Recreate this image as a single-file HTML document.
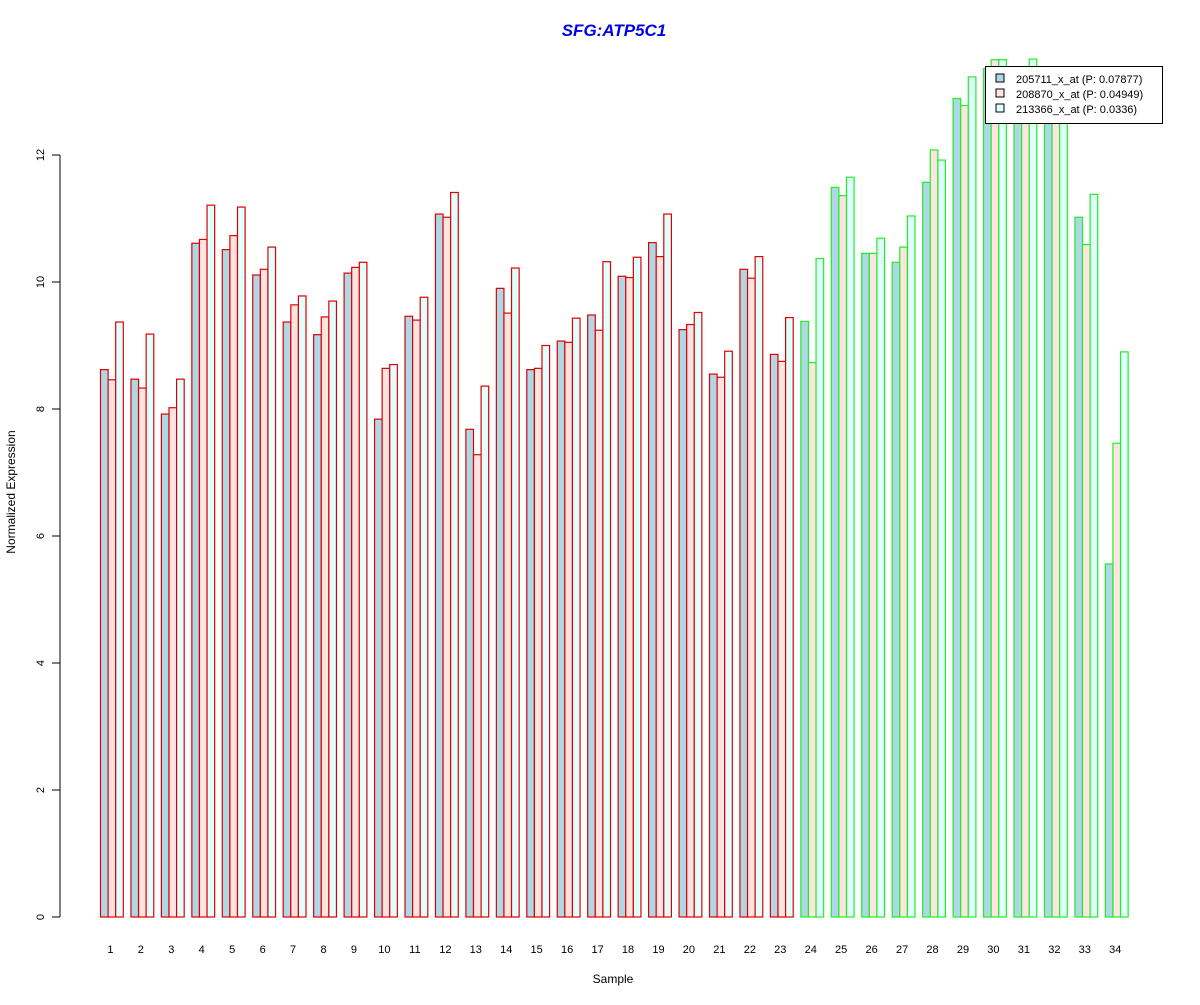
<!DOCTYPE html>
<html><head><meta charset="utf-8"><style>
body{margin:0;background:#fff;}
svg text{font-family:"Liberation Sans",Arial,sans-serif;}
</style></head><body>
<svg id="chart" width="1200" height="1000" xmlns="http://www.w3.org/2000/svg">
<text x="614" y="36" text-anchor="middle" font-size="17" font-weight="bold" font-style="italic" fill="#0000ee">SFG:ATP5C1</text>
<text transform="translate(15,492) rotate(-90)" text-anchor="middle" font-size="12">Normalized Expression</text>
<text x="613" y="983" text-anchor="middle" font-size="12">Sample</text>
<g id="yaxis"></g>
<g id="bars"></g>
<g id="xlabels"></g>
<g>
<rect x="985.5" y="66.5" width="177" height="57" fill="#fff" stroke="#000"/>
<g><rect x="996" y="74" width="8" height="8" fill="#add8e6" stroke="#000"/><text x="1016" y="83" font-size="11">205711_x_at (P: 0.07877)</text></g>
<g><rect x="996" y="89" width="8" height="8" fill="#ffe4e1" stroke="#000"/><text x="1016" y="98" font-size="11">208870_x_at (P: 0.04949)</text></g>
<g><rect x="996" y="104" width="8" height="8" fill="#e0ffff" stroke="#000"/><text x="1016" y="113" font-size="11">213366_x_at (P: 0.0336)</text></g>
</g>
</svg>
<script>
const categories=[1,2,3,4,5,6,7,8,9,10,11,12,13,14,15,16,17,18,19,20,21,22,23,24,25,26,27,28,29,30,31,32,33,34];
const series1=[8.62,8.47,7.92,10.61,10.51,10.11,9.37,9.17,10.14,7.84,9.46,11.07,7.68,9.90,8.62,9.07,9.48,10.09,10.62,9.25,8.55,10.20,8.86,9.38,11.49,10.45,10.31,11.57,12.89,13.36,13.3,12.9,11.02,5.56];
const series2=[8.46,8.33,8.02,10.67,10.73,10.20,9.64,9.45,10.23,8.64,9.40,11.02,7.28,9.51,8.64,9.05,9.24,10.07,10.40,9.33,8.50,10.06,8.75,8.73,11.36,10.45,10.55,12.08,12.78,13.50,13.2,12.8,10.59,7.46];
const series3=[9.37,9.18,8.47,11.21,11.18,10.55,9.78,9.70,10.31,8.70,9.76,11.41,8.36,10.22,9.00,9.43,10.32,10.39,11.07,9.52,8.91,10.40,9.44,10.37,11.65,10.69,11.04,11.92,13.23,13.50,13.51,13.1,11.38,8.90];
const groupOf=[0,0,0,0,0,0,0,0,0,0,0,0,0,0,0,0,0,0,0,0,0,0,0,1,1,1,1,1,1,1,1,1,1,1];
const yTicks=[0,2,4,6,8,10,12];
const NS="http://www.w3.org/2000/svg";
const y0=917,yScale=63.5;
function yPos(v){return y0-v*yScale;}
function xStart(i){return 100.5+i*30.45;}
const barW=7.6;
const fills=["#add8e6","#ffe4e1","#e0ffff"];
const strokes=["#e00000","#22ee22"];
const seriesAll=[series1,series2,series3];
const bars=document.getElementById('bars');
categories.forEach((c,i)=>{
  seriesAll.forEach((s,j)=>{
    const r=document.createElementNS(NS,'rect');
    
    
    const top=yPos(s[i]);
    r.setAttribute('x',xStart(i)+j*barW);
    r.setAttribute('y',top);
    r.setAttribute('width',barW);
    r.setAttribute('height',y0-top);
    r.setAttribute('fill',fills[j]);
    r.setAttribute('stroke',strokes[groupOf[i]]);
    r.setAttribute('stroke-width','1.2');
    bars.appendChild(r);
  });
  const t=document.createElementNS(NS,'text');
  
  
  t.setAttribute('x',xStart(i)+barW*1.3);
  t.setAttribute('y',953);
  t.setAttribute('text-anchor','middle');
  t.setAttribute('font-size','11');
  t.textContent=c;
  document.getElementById('xlabels').appendChild(t);
});
const ya=document.getElementById('yaxis');
const ln=document.createElementNS(NS,'line');


ln.setAttribute('x1',60);ln.setAttribute('x2',60);
ln.setAttribute('y1',yPos(yTicks[0]));ln.setAttribute('y2',yPos(yTicks[yTicks.length-1]));
ln.setAttribute('stroke','#000');
ya.appendChild(ln);
yTicks.forEach(v=>{
  const tk=document.createElementNS(NS,'line');
  
  
  tk.setAttribute('x1',52);tk.setAttribute('x2',60);
  tk.setAttribute('y1',yPos(v));tk.setAttribute('y2',yPos(v));
  tk.setAttribute('stroke','#000');
  ya.appendChild(tk);
  const t=document.createElementNS(NS,'text');
  
  
  t.setAttribute('transform','translate(44,'+yPos(v)+') rotate(-90)');
  t.setAttribute('text-anchor','middle');
  t.setAttribute('font-size','11');
  t.textContent=v;
  ya.appendChild(t);
});
</script>
</body></html>
